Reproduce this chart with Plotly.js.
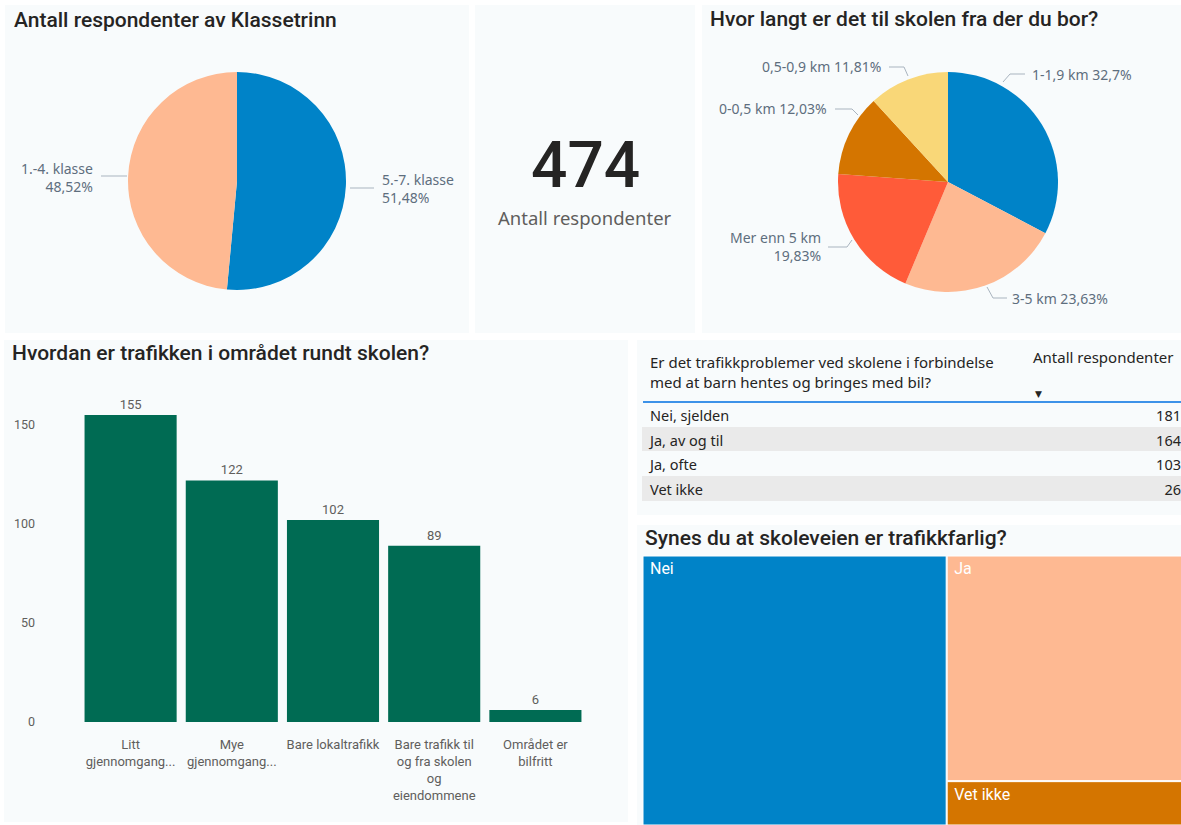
<!DOCTYPE html>
<html>
<head>
<meta charset="utf-8">
<script src="https://cdn.plot.ly/plotly-3.0.1.min.js"></script>
<style>
  html, body { margin: 0; padding: 0; background: #ffffff; overflow: hidden; }
  #chart { width: 1189px; height: 825px; }
</style>
</head>
<body>
<div id="chart"></div>
<script>
// ---------------- DATA ----------------
const gradeLabels = ["5.-7. klasse", "1.-4. klasse"];
const gradeCounts = [244, 230];

const distanceLabels = ["1-1,9 km", "3-5 km", "Mer enn 5 km", "0-0,5 km", "0,5-0,9 km"];
const distanceCounts = [155, 112, 94, 57, 56];

const totalRespondents = 474;
const cardLabel = "Antall respondenter";

const trafficCategories = ["Litt gjennomgangstrafikk", "Mye gjennomgangstrafikk", "Bare lokaltrafikk",
  "Bare trafikk til og fra skolen og eiendommene", "Området er bilfritt"];
const trafficCounts = [155, 122, 102, 89, 6];
const trafficTickLabels = ["Litt<br>gjennomgang...", "Mye<br>gjennomgang...", "Bare lokaltrafikk",
  "Bare trafikk til<br>og fra skolen<br>og<br>eiendommene", "Området er<br>bilfritt"];
const trafficTickVals = [0, 50, 100, 150];

const tableHeader = ["Er det trafikkproblemer ved skolene i forbindelse<br>med at barn hentes og bringes med bil?", "Antall respondenter"];
const tableAnswers = ["Nei, sjelden", "Ja, av og til", "Ja, ofte", "Vet ikke"];
const tableCounts = [181, 164, 103, 26];

const dangerLabels = ["Nei", "Ja", "Vet ikke"];
const dangerCounts = [267, 173, 34];

const titles = ["Antall respondenter av Klassetrinn", "Hvor langt er det til skolen fra der du bor?",
  "Hvordan er trafikken i området rundt skolen?", "Synes du at skoleveien er trafikkfarlig?"];

// ---------------- LAYOUT CONFIG ----------------
// figure is slightly wider than the 1181px window so the table/treemap run off the right edge like the original
const W = 1189, H = 825;
const X = v => v / W;
const Y = v => 1 - v / H;

const PANEL_BG = "#F8FBFC";
const TITLE_FONT = "Roboto, 'DejaVu Sans', sans-serif";
const BODY_FONT = "'Noto Sans', 'Open Sans', sans-serif";
const LABEL_COLOR = "#5E6E7E";
const DARK = "#252423";
const GRAY = "#605E5C";

const panels = [[5, 5, 469, 333], [475, 5, 695, 333], [702, 5, 1189, 333],
  [4, 340, 628, 822], [637, 340, 1189, 515], [637, 525, 1189, 830]];
const titlePos = [[12, 20], [708, 19], [10, 353], [643, 538]];

const gradeColors = ["#0083C8", "#FEB992"];
const distanceColors = ["#0083C8", "#FEB992", "#FF5B39", "#D47500", "#F9D778"];
const dangerColors = ["#0083C8", "#FEB992", "#D47500"];
const barColor = "#006B53";

const pie1 = {cx: 237, cy: 181, r: 109};
const pie2 = {cx: 948, cy: 182, r: 110};

// label placement: anchor point, side, leader path points
const gradeLabelPos = [
  {x: 380, y: 188, side: "left", path: [[350, 188], [374, 188]]},
  {x: 95, y: 177, side: "right", path: [[127, 176], [101, 176]]}
];
const distanceLabelPos = [
  {x: 1030, y: 74, side: "left", path: [[1003, 82], [1010, 74], [1025, 74]]},
  {x: 1010, y: 298, side: "left", path: [[987, 287], [993, 298], [1007, 298]]},
  {x: 823, y: 247, side: "right", path: [[852, 240], [847, 247], [828, 247]]},
  {x: 829, y: 109, side: "right", path: [[858, 115], [852, 109], [835, 109]]},
  {x: 883, y: 67, side: "right", path: [[908, 76], [904, 67], [889, 67]]}
];

function pct(v, arr) {
  const t = arr.reduce((a, b) => a + b, 0);
  return Number((v / t * 100).toFixed(2)).toString().replace(".", ",") + "%";
}

const shapes = [];
const annotations = [];

panels.forEach(p => shapes.push({
  type: "rect", xref: "paper", yref: "paper", layer: "below",
  x0: X(p[0]), x1: X(p[2]), y0: Y(p[3]), y1: Y(p[1]),
  fillcolor: PANEL_BG, line: {width: 0}
}));

titles.forEach((t, i) => annotations.push({
  text: t, xref: "paper", yref: "paper", x: X(titlePos[i][0]), y: Y(titlePos[i][1]),
  xanchor: "left", yanchor: "middle", showarrow: false,
  font: {family: TITLE_FONT, size: 21, color: DARK, weight: 500}
}));

function addPieLabels(labels, counts, pos, twoLineIdx) {
  labels.forEach((l, i) => {
    const p = pos[i];
    const sep = twoLineIdx.includes(i) ? "<br>" : " ";
    annotations.push({
      text: l + sep + pct(counts[i], counts), xref: "paper", yref: "paper",
      x: X(p.x), y: Y(p.y), xanchor: p.side, yanchor: "middle",
      align: p.side, showarrow: false,
      font: {family: BODY_FONT, size: 14, color: LABEL_COLOR}
    });
    const d = p.path.map((pt, k) => (k === 0 ? "M " : "L ") + X(pt[0]) + " " + Y(pt[1])).join(" ");
    shapes.push({type: "path", xref: "paper", yref: "paper", path: d,
      line: {color: "#A9B4BF", width: 1}});
  });
}
addPieLabels(gradeLabels, gradeCounts, gradeLabelPos, [0, 1]);
addPieLabels(distanceLabels, distanceCounts, distanceLabelPos, [2]);

// Card
annotations.push({
  text: String(totalRespondents), xref: "paper", yref: "paper", x: X(585), y: Y(166),
  xanchor: "center", yanchor: "middle", showarrow: false,
  font: {family: TITLE_FONT, size: 64, color: DARK, weight: 500}
});
annotations.push({
  text: cardLabel, xref: "paper", yref: "paper", x: X(585), y: Y(218),
  xanchor: "center", yanchor: "middle", showarrow: false,
  font: {family: BODY_FONT, size: 18.5, color: GRAY}
});

// Table decorations
shapes.push({type: "line", xref: "paper", yref: "paper", x0: X(643), x1: 1, y0: Y(402), y1: Y(402),
  line: {color: "#3D92E8", width: 2}});
annotations.push({
  text: "▼", xref: "paper", yref: "paper", x: X(1038), y: Y(394),
  xanchor: "center", yanchor: "middle", showarrow: false,
  font: {family: "DejaVu Sans", size: 9, color: DARK}
});

function pieDomain(p) {
  return {x: [X(p.cx - p.r), X(p.cx + p.r)], y: [Y(p.cy + p.r), Y(p.cy - p.r)]};
}

const rowFill = tableAnswers.map((_, i) => i % 2 === 0 ? PANEL_BG : "#EAEAEA");

const traces = [
  {
    type: "pie", labels: gradeLabels, values: gradeCounts, sort: false, direction: "clockwise",
    rotation: 0, textinfo: "none", hoverinfo: "label+percent", showlegend: false,
    marker: {colors: gradeColors, line: {width: 0}}, domain: pieDomain(pie1)
  },
  {
    type: "pie", labels: distanceLabels, values: distanceCounts, sort: false, direction: "clockwise",
    rotation: 0, textinfo: "none", hoverinfo: "label+percent", showlegend: false,
    marker: {colors: distanceColors, line: {width: 0}}, domain: pieDomain(pie2)
  },
  {
    type: "bar", x: trafficCategories, y: trafficCounts, marker: {color: barColor},
    text: trafficCounts.map(String), textposition: "outside", cliponaxis: false,
    textfont: {family: TITLE_FONT, size: 13, color: GRAY}, hoverinfo: "x+y", showlegend: false,
    xaxis: "x", yaxis: "y"
  },
  {
    type: "table", domain: {x: [X(642), 1], y: [Y(502), Y(344)]},
    columnwidth: [383, 164],
    header: {
      values: tableHeader, align: ["left", "left"], height: 58,
      fill: {color: PANEL_BG}, line: {width: 0, color: PANEL_BG},
      font: {family: BODY_FONT, size: 15, color: DARK}
    },
    cells: {
      values: [tableAnswers, tableCounts], align: ["left", "right"], height: 24.7,
      fill: {color: [rowFill, rowFill]}, line: {width: 0, color: "#FFFFFF"},
      font: {family: BODY_FONT, size: 14.5, color: DARK}
    }
  },
  {
    type: "treemap", labels: dangerLabels, parents: dangerLabels.map(() => ""), values: dangerCounts,
    domain: {x: [X(643), X(1182)], y: [0, Y(556)]},
    marker: {colors: dangerColors, line: {width: 1, color: "#FFFFFF"}, pad: {t: 0, l: 0, r: 0, b: 0}},
    tiling: {packing: "squarify", pad: 1},
    pathbar: {visible: false}, sort: true,
    textinfo: "label", texttemplate: "&nbsp;%{label}", textposition: "top left",
    textfont: {family: TITLE_FONT, size: 16, color: "#FFFFFF"},
    hoverinfo: "label+value"
  }
];

const layout = {
  width: W, height: H, margin: {l: 0, r: 0, t: 0, b: 0},
  paper_bgcolor: "#FFFFFF", plot_bgcolor: "rgba(0,0,0,0)",
  showlegend: false, bargap: 0.09,
  xaxis: {
    domain: [X(80), X(586)], tickmode: "array", tickvals: trafficCategories, ticktext: trafficTickLabels,
    showline: false, showgrid: false, zeroline: false, ticks: "", ticklabelstandoff: 13,
    tickfont: {family: TITLE_FONT, size: 13, color: GRAY}, fixedrange: true
  },
  yaxis: {
    domain: [Y(722), Y(405.2)], range: [0, 160], tickmode: "array", tickvals: trafficTickVals,
    showline: false, showgrid: false, zeroline: false, ticks: "", ticklabelstandoff: 44,
    tickfont: {family: TITLE_FONT, size: 12.5, color: GRAY}, fixedrange: true
  },
  shapes: shapes, annotations: annotations,
  font: {family: BODY_FONT}
};

Plotly.newPlot("chart", traces, layout, {displayModeBar: false, responsive: false});
</script>
</body>
</html>
